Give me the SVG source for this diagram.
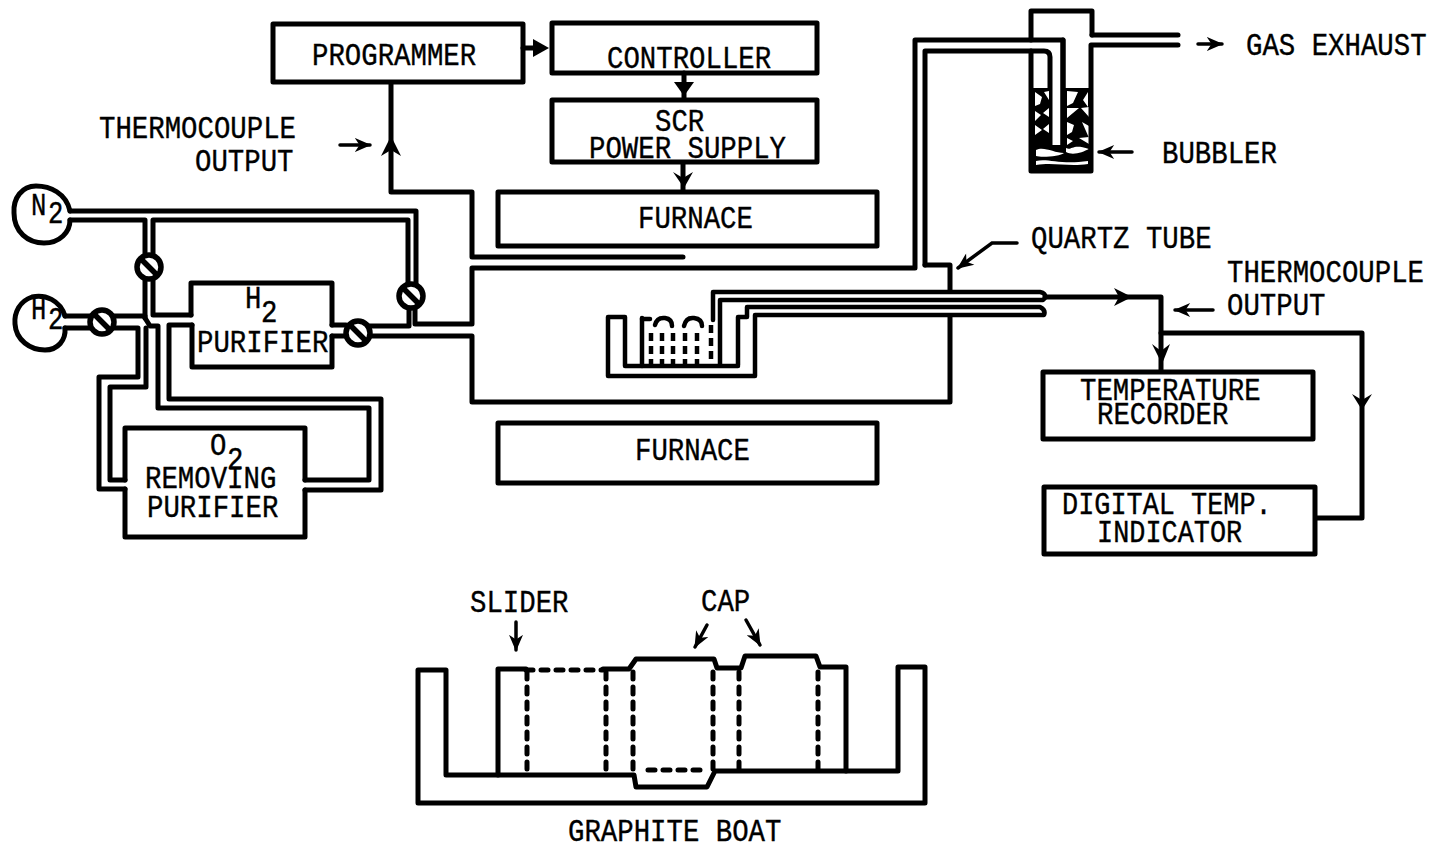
<svg xmlns="http://www.w3.org/2000/svg" width="1435" height="848" viewBox="0 0 1435 848">
<style>
text{font-family:"Liberation Mono","DejaVu Sans Mono",monospace;font-size:32px;fill:#000;stroke:#000;stroke-width:.4}
.b{fill:none;stroke:#000;stroke-width:5;stroke-linejoin:round;stroke-linecap:round}
.t{fill:none;stroke:#000;stroke-width:4.5;stroke-linejoin:round;stroke-linecap:round}
.a{fill:none;stroke:#000;stroke-width:3.5;stroke-linecap:round}
.d{fill:none;stroke:#000;stroke-width:5;stroke-linecap:round;stroke-dasharray:7 8}
.w{fill:#fff}
.v{fill:#fff;stroke:#000;stroke-width:5.5}
.vb{stroke:#000;stroke-width:5.5;fill:none}
</style>
<defs>
<marker id="ah" viewBox="0 0 14 12" refX="13" refY="6" markerWidth="17" markerHeight="14" markerUnits="userSpaceOnUse" orient="auto"><path d="M0 0L14 6L0 12L4 6Z"/></marker>
<g id="valve"><circle r="12" class="v"/><path d="M-9 -9L9 9" class="vb"/></g>
</defs>
<rect width="1435" height="848" fill="#fff"/>
<g id="connectors">
<path class="b" d="M391 84V192H472V257H683"/>
<path class="b" d="M523 48H535"/>
<path d="M533 39L549 48L533 57Z"/>
<path class="b" d="M684 73V99"/>
<path d="M674 82H694L684 96Z"/>
<path class="b" d="M683 163V191"/>
<path d="M673 172L683 178L693 172L684 188Z"/>
<path class="b" d="M1045 297H1161V371"/>
<path class="b" d="M1161 333H1362V518H1316"/>
<path d="M1114 288L1132 297L1114 306L1119 297Z"/>
<path d="M1152 344L1161 351L1170 344L1162 364Z"/>
<path d="M1352 394L1362 400L1372 394L1362 410Z"/>
<path d="M381 156L391 136L401 156L391 150Z"/>
<path class="a" d="M340 145H370" marker-end="url(#ah)"/>
<path class="a" d="M1198 44H1222" marker-end="url(#ah)"/>
<path class="a" d="M1132 152H1099" marker-end="url(#ah)"/>
<path class="a" d="M1213 310H1175" marker-end="url(#ah)"/>
<path class="a" d="M1017 243H992L958 268" marker-end="url(#ah)"/>
<path class="a" d="M516 622V650" marker-end="url(#ah)"/>
<path class="a" d="M707 625L695 647" marker-end="url(#ah)"/>
<path class="a" d="M746 620L760 645" marker-end="url(#ah)"/>
</g>
<g id="pipes">
<path class="b" d="M70 211H416V285"/>
<path class="b" d="M70 220H145V318"/>
<path class="b" d="M408 285V220H153V315H191"/>
<path class="b" d="M65 316H145"/>
<path class="b" d="M65 328H138V377H99V489H125"/>
<path class="b" d="M192 325H169V399H381V490H305"/>
<path class="b" d="M145 318L150 326H158V408H369V480H305"/>
<path class="b" d="M146 328V387H110V480H125"/>
<path class="b" d="M332 325H346"/>
<path class="b" d="M332 336H346"/>
<path class="b" d="M368 326H409V306"/>
<path class="b" d="M370 336H472V402H950V316"/>
<path class="b" d="M415 306V324H472V268H915V40H1063V146"/>
<path class="b" d="M925 265V51H1044Q1050 51 1050 57V146"/>
<path class="b" d="M925 265H950V291"/>
</g>
<g id="quartz-tube">
<path class="t" d="M713 320V292H1040Q1046 293 1045 298L1043 300H720V365"/>
<path class="t" d="M738 365V317H747V307H1040Q1046 310 1044 315H755V376H608V317H625V366H738"/>
<path class="t" d="M642 366V318"/>
<path class="t" d="M642 319H650M655 325Q657 317 665 318Q672 319 672 326M684 326Q686 317 694 318Q702 319 702 326"/>
<path d="M651 333V366M662 333V366M673 333V366M685 333V366M697 333V366M711 325V366" fill="none" stroke="#000" stroke-width="4.5" stroke-dasharray="8 5"/>
</g>
<g id="bubbler">
<rect x="1033" y="88" width="17" height="58"/>
<rect x="1065" y="88" width="25" height="58"/>
<rect x="1033" y="145" width="57" height="24"/>
<path class="w" d="M1035 92l7 5-2 7-5 2zM1044 92l5-1v9zM1035 111l6 4-6 6zM1049 108v9l-6-4zM1035 125l7 5-7 5zM1049 124v9l-6-4zM1067 91l11 1-5 11-6 3zM1088 92v15l-5-7zM1067 108h12l-12 10zM1081 108l8-1v10zM1067 122l7 3-2 7-5 3zM1082 122l7 4v12zM1067 138l6 3-6 4zM1079 138l10-1v7zM1036 150c8-4 18 3 28 3-3 3-22 5-28 3zM1066 148c6 3 6-5 23 1-6 3-16 7-23 3zM1036 161c12-3 24 4 52 0v3c-20 3-34-2-52 1z"/>
<path class="b" d="M1092 35V11H1031V40M1031 51V171H1091V45H1178"/>
<path class="b" d="M1092 35H1178"/>
<path class="b" d="M1063 40V146"/>
</g>
<g id="graphite-boat">
<path class="b" d="M446 670H418V803H925V667H898V771H715L707 787H636L634 775H446ZM446 670V775"/>
<path class="b" d="M498 775V669H526"/>
<path class="b" d="M603 669H629L636 659H714L717 668H741L745 656H816L820 667H846V771"/>
<path class="d" d="M526 670H603"/>
<path class="d" d="M527 672V775M606 672V775M633 672V775M713 672V772M739 672V772M818 672V772"/>
<path class="d" d="M648 770H706"/>
</g>
<g id="n2"><path class="b" d="M70 211C66 193 50 186 36 186C22 186 13 198 14 213C14 232 28 243 44 243C60 243 70 232 70 220"/><text transform="translate(31 215) scale(.8 1)">N</text><text transform="translate(48 223) scale(.8 1)">2</text></g>
<g id="h2"><path class="b" d="M65 316C60 300 45 294 32 297C20 301 14 312 15 324C16 340 30 350 45 350C58 350 66 340 65 328"/><text transform="translate(31 319) scale(.8 1)">H</text><text transform="translate(48 329) scale(.8 1)">2</text></g>
<g id="valves">
<use href="#valve" x="149" y="267"/>
<use href="#valve" x="411" y="296"/>
<use href="#valve" x="358" y="333"/>
<use href="#valve" x="102" y="322"/>
</g>
<g id="programmer"><rect class="b" x="273" y="24" width="250" height="58"/><text transform="translate(312 65) scale(.855 1)">PROGRAMMER</text></g>
<g id="controller"><rect class="b" x="552" y="23" width="265" height="50"/><text transform="translate(607 68) scale(.855 1)">CONTROLLER</text></g>
<g id="scr"><rect class="b" x="552" y="100" width="265" height="62"/><text transform="translate(655 131) scale(.855 1)">SCR</text><text transform="translate(589 158) scale(.855 1)">POWER SUPPLY</text></g>
<g id="furnace-top"><rect class="b" x="498" y="192" width="379" height="54"/><text transform="translate(638 228) scale(.855 1)">FURNACE</text></g>
<g id="furnace-bottom"><rect class="b" x="498" y="423" width="379" height="60"/><text transform="translate(635 460) scale(.855 1)">FURNACE</text></g>
<g id="h2-purifier"><path class="b" d="M191 315V283H332V325M332 336V367H192V325"/><text transform="translate(245 308) scale(.855 1)">H</text><text transform="translate(261 322) scale(.855 1)">2</text><text transform="translate(197 352) scale(.855 1)">PURIFIER</text></g>
<g id="o2-purifier"><path class="b" d="M125 480V428H305V480M305 490V537H125V489"/><text transform="translate(210 455) scale(.855 1)">O</text><text transform="translate(227 469) scale(.855 1)">2</text><text transform="translate(145 488) scale(.855 1)">REMOVING</text><text transform="translate(147 517) scale(.855 1)">PURIFIER</text></g>
<g id="temperature-recorder"><rect class="b" x="1043" y="372" width="270" height="67"/><text transform="translate(1080 400) scale(.855 1)">TEMPERATURE</text><text transform="translate(1097 424) scale(.855 1)">RECORDER</text></g>
<g id="digital-indicator"><rect class="b" x="1044" y="487" width="271" height="67"/><text transform="translate(1062 514) scale(.84 1)">DIGITAL TEMP.</text><text transform="translate(1097 542) scale(.84 1)">INDICATOR</text></g>
<g id="labels">
<text transform="translate(99 138) scale(.855 1)">THERMOCOUPLE</text>
<text transform="translate(195 171) scale(.855 1)">OUTPUT</text>
<text transform="translate(1246 55) scale(.855 1)">GAS EXHAUST</text>
<text transform="translate(1162 163) scale(.855 1)">BUBBLER</text>
<text transform="translate(1031 248) scale(.855 1)">QUARTZ TUBE</text>
<text transform="translate(1227 282) scale(.855 1)">THERMOCOUPLE</text>
<text transform="translate(1227 315) scale(.855 1)">OUTPUT</text>
<text transform="translate(470 612) scale(.855 1)">SLIDER</text>
<text transform="translate(701 611) scale(.855 1)">CAP</text>
<text transform="translate(568 841) scale(.855 1)">GRAPHITE BOAT</text>
</g>
</svg>
